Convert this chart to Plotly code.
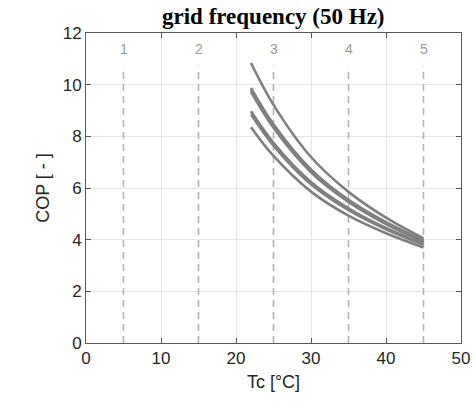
import plotly.graph_objects as go

# Condenser temperature sample points (°C)
tc = [22, 25, 30, 35, 40, 45]

# COP curves
cop_a = [10.84, 9.22, 7.20, 5.85, 4.85, 4.05]
cop_b1 = [9.88, 8.47, 6.72, 5.54, 4.68, 3.98]
cop_b2 = [9.80, 8.40, 6.66, 5.50, 4.64, 3.95]
cop_b3 = [9.72, 8.33, 6.61, 5.46, 4.60, 3.92]
cop_c1 = [8.97, 7.75, 6.23, 5.21, 4.45, 3.85]
cop_c2 = [8.85, 7.64, 6.14, 5.14, 4.40, 3.80]
cop_d = [8.35, 7.24, 5.86, 4.93, 4.25, 3.70]
curves = [cop_a, cop_b1, cop_b2, cop_b3, cop_c1, cop_c2, cop_d]

# Vertical reference lines and their labels
ref_x = [5, 15, 25, 35, 45]
ref_labels = ["1", "2", "3", "4", "5"]
ref_top = 10.7
label_y = 11.4

x_ticks = [0, 10, 20, 30, 40, 50]
y_ticks = [0, 2, 4, 6, 8, 10, 12]

fig = go.Figure()

for xv in ref_x:
    fig.add_trace(go.Scatter(
        x=[xv, xv], y=[0, ref_top], mode="lines",
        line=dict(color="#b4b4b4", width=1.6, dash="7px,5px"),
        showlegend=False, hoverinfo="skip"))

for c in curves:
    fig.add_trace(go.Scatter(
        x=tc, y=c, mode="lines",
        line=dict(color="#808080", width=2.6, shape="spline"),
        showlegend=False))

for xv, lab in zip(ref_x, ref_labels):
    fig.add_annotation(x=xv, y=label_y, text=lab, showarrow=False,
                       font=dict(family="Liberation Sans, Arial", size=14, color="#9a9a9a"))

fig.add_annotation(x=0.5, xref="paper", y=1.052, yref="paper", yanchor="middle",
                   showarrow=False, borderpad=0,
                   text="<b>grid frequency (50 Hz)</b>",
                   font=dict(family="Liberation Serif, Times New Roman", size=23, color="black"))

fig.update_layout(
    width=475, height=404,
    margin=dict(l=86, r=14, t=33, b=61, autoexpand=False),
    paper_bgcolor="white", plot_bgcolor="white",
    font=dict(family="Liberation Sans, Arial", size=17, color="#262626"),
)

axis_common = dict(
    showline=True, linecolor="#5a5a5a", linewidth=1, mirror="ticks",
    ticks="inside", ticklen=5, tickcolor="#5a5a5a",
    showgrid=True, gridcolor="#e6e6e6", gridwidth=1, zeroline=False,
    automargin=False,
    tickfont=dict(family="Liberation Sans, Arial", size=17, color="#262626"),
)

fig.update_xaxes(range=[0, 50], tickvals=x_ticks,
                 title=dict(text="Tc [°C]", font=dict(size=18, color="#262626"), standoff=7),
                 **axis_common)
fig.update_yaxes(range=[0, 12], tickvals=y_ticks,
                 title=dict(text="COP [ - ]", font=dict(size=18, color="#262626"), standoff=8),
                 **axis_common)

fig.write_html("out.html", config={"displayModeBar": False},
               post_script="document.body.style.margin='0';document.body.style.padding='0';")
